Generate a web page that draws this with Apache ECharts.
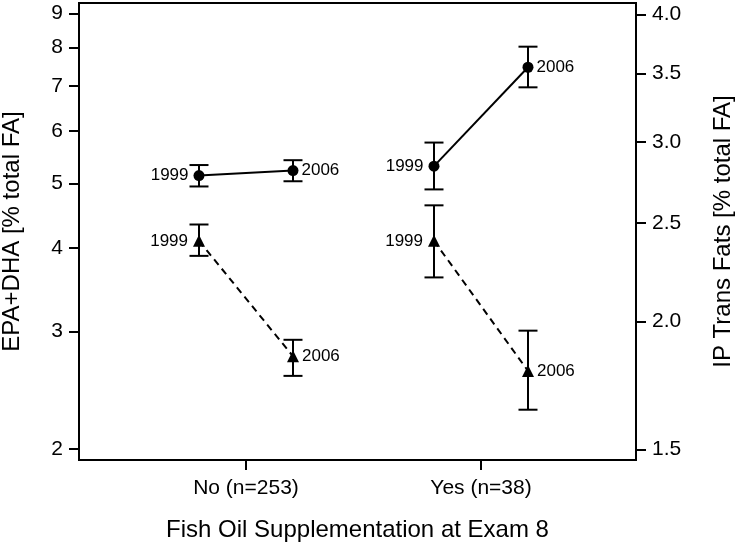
<!DOCTYPE html>
<html><head><meta charset="utf-8">
<script src="https://cdn.jsdelivr.net/npm/echarts@6/dist/echarts.min.js"></script>
<style>html,body{margin:0;padding:0;background:#fff}#c{width:738px;height:545px}</style>
</head><body><div id="c"></div>
<script>
// ---- data ----
const groups = ['No (n=253)', 'Yes (n=38)'];
const years = ['1999', '2006'];
// EPA+DHA (left axis, circles) per group: [1999, 2006]
const epaMean = [[5.14, 5.23], [5.31, 7.47]];
const epaLow  = [[4.95, 5.04], [4.90, 6.97]];
const epaHigh = [[5.33, 5.42], [5.76, 8.02]];
// IP Trans Fats (right axis, triangles)
const transMean = [[2.40, 1.85], [2.40, 1.79]];
const transLow  = [[2.32, 1.77], [2.21, 1.64]];
const transHigh = [[2.49, 1.92], [2.60, 1.96]];
const leftTicks = [2, 3, 4, 5, 6, 7, 8, 9];
const rightTicks = [1.5, 2.0, 2.5, 3.0, 3.5, 4.0];
const groupPos = [1, 2];

// ---- layout ----
const FONT = "'Liberation Sans', Arial, sans-serif";
const OFFSET = 0.2;
const xOf = (g, yi) => groupPos[g] + (yi === 0 ? -OFFSET : OFFSET);

const series = [];
function addMeasure(mean, low, high, yAxisIndex, symbol, size, lineType) {
  groups.forEach((g, gi) => {
    series.push({
      type: 'custom', yAxisIndex, z: 2,
      data: years.map((y, yi) => [xOf(gi, yi), low[gi][yi], high[gi][yi]]),
      renderItem: (params, api) => {
        const x = api.value(0);
        const a = api.coord([x, api.value(1)]), b = api.coord([x, api.value(2)]);
        const w = 9.5, st = { stroke: '#000', lineWidth: 2 };
        return { type: 'group', children: [
          { type: 'line', shape: { x1: a[0], y1: a[1], x2: b[0], y2: b[1] }, style: st },
          { type: 'line', shape: { x1: a[0] - w, y1: a[1], x2: a[0] + w, y2: a[1] }, style: st },
          { type: 'line', shape: { x1: b[0] - w, y1: b[1], x2: b[0] + w, y2: b[1] }, style: st }
        ]};
      }
    });
    series.push({
      type: 'line', yAxisIndex, z: 3, symbol, symbolSize: size,
      itemStyle: { color: '#000' },
      lineStyle: { color: '#000', width: 2, type: lineType },
      data: years.map((y, yi) => ({
        value: [xOf(gi, yi), mean[gi][yi]],
        label: { show: true, position: yi === 0 ? 'left' : 'right', distance: yi === 0 ? 5 : 3,
                 formatter: y, color: '#000', fontSize: 17, fontFamily: FONT }
      }))
    });
  });
}
addMeasure(epaMean, epaLow, epaHigh, 0, 'circle', 11, 'solid');
addMeasure(transMean, transLow, transHigh, 1, 'triangle', 12, [7, 5]);

const chart = echarts.init(document.getElementById('c'));
chart.setOption({
  animation: false,
  backgroundColor: '#fff',
  grid: { left: 79, right: 102, top: 3, bottom: 85, show: true, borderColor: '#000', borderWidth: 2,
          containLabel: false, outerBoundsMode: 'none' },
  xAxis: {
    type: 'value', min: 0.2894, max: 2.6596,
    splitLine: { show: false },
    axisLine: { show: true, lineStyle: { color: '#000', width: 2 } },
    axisTick: { show: true, length: 10, lineStyle: { color: '#000', width: 2 }, customValues: groupPos },
    axisLabel: { customValues: groupPos, margin: 18, fontSize: 21, color: '#000', fontFamily: FONT,
      formatter: v => groups[groupPos.indexOf(Math.round(v))] || '' },
    name: 'Fish Oil Supplementation at Exam 8', nameLocation: 'middle', nameGap: 58,
    nameTextStyle: { fontSize: 24, color: '#000', fontFamily: FONT }
  },
  yAxis: [{
    type: 'log', min: 1.9255, max: 9.325,
    splitLine: { show: false }, minorTick: { show: false },
    axisLine: { show: true, lineStyle: { color: '#000', width: 2 } },
    axisTick: { show: true, length: 10, lineStyle: { color: '#000', width: 2 }, customValues: leftTicks },
    axisLabel: { customValues: leftTicks, margin: 16, fontSize: 21, color: '#000', fontFamily: FONT,
      formatter: v => String(Math.round(v)) },
    name: 'EPA+DHA [% total FA]', nameLocation: 'middle', nameGap: 55, nameRotate: 90,
    nameTextStyle: { fontSize: 24, color: '#000', fontFamily: FONT }
  }, {
    type: 'log', min: 1.4642, max: 4.103, position: 'right',
    splitLine: { show: false }, minorTick: { show: false },
    axisLine: { show: true, lineStyle: { color: '#000', width: 2 } },
    axisTick: { show: true, length: 10, lineStyle: { color: '#000', width: 2 }, customValues: rightTicks },
    axisLabel: { customValues: rightTicks, margin: 16, fontSize: 21, color: '#000', fontFamily: FONT,
      formatter: v => Number(v).toFixed(1) },
    name: 'IP Trans Fats [% total FA]', nameLocation: 'middle', nameGap: 75, nameRotate: 90,
    nameTextStyle: { fontSize: 24, color: '#000', fontFamily: FONT }
  }],
  series
});
</script></body></html>
